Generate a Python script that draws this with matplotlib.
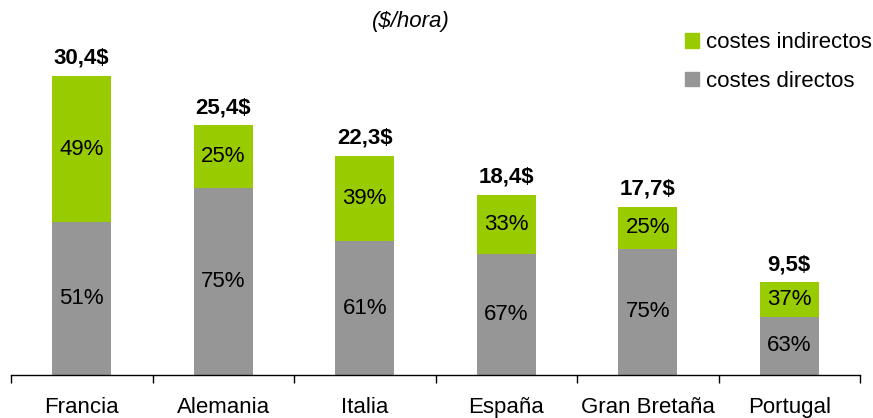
import matplotlib
matplotlib.use("Agg")
import matplotlib.pyplot as plt
from matplotlib.patches import Patch

# datos
paises = ["Francia", "Alemania", "Italia", "España", "Gran Bretaña", "Portugal"]
totales = [30.4, 25.4, 22.3, 18.4, 17.7, 9.5]          # etiquetas
altura_barra = [30.4, 25.4, 22.3, 18.3, 17.1, 9.4]     # altura dibujada en el original
pct_directos = [51, 75, 61, 67, 75, 63]
pct_indirectos = [49, 25, 39, 33, 25, 37]

GRIS = "#969696"
VERDE = "#99CC00"
FS = 16

plt.rcParams.update({
    "font.family": ["Liberation Sans", "DejaVu Sans"],
    "font.size": FS,
})

fig = plt.figure(figsize=(8.73, 4.18), dpi=100)
ax = fig.add_axes([11 / 873, 43 / 418, 849 / 873, 375 / 418])

x = list(range(len(paises)))
directos = [h * p / 100 for h, p in zip(altura_barra, pct_directos)]
indirectos = [h - d for h, d in zip(altura_barra, directos)]

ancho = 0.42
ax.bar(x, directos, width=ancho, color=GRIS)
ax.bar(x, indirectos, width=ancho, bottom=directos, color=VERDE)

for i in x:
    ax.text(i, directos[i] / 2, f"{pct_directos[i]}%", ha="center", va="center")
    ax.text(i, directos[i] + indirectos[i] / 2, f"{pct_indirectos[i]}%",
            ha="center", va="center")
    ax.annotate(f"{totales[i]:.1f}$".replace(".", ","), (i, altura_barra[i]),
                xytext=(0, 5), textcoords="offset points",
                ha="center", va="bottom", fontweight="bold")

ax.set_xlim(-0.5, len(paises) - 0.5)
ax.set_ylim(0, 38.1)

for s in ["top", "right", "left"]:
    ax.spines[s].set_visible(False)
ax.spines["bottom"].set_linewidth(1.0)

ax.set_yticks([])
ax.set_xticks(x)
ax.set_xticklabels(paises)
ax.tick_params(axis="x", which="major", length=0, pad=16, labelsize=FS)
ax.set_xticks([i - 0.5 for i in range(len(paises) + 1)], minor=True)
ax.tick_params(axis="x", which="minor", length=6, width=1, direction="out")

fig.text(411 / 873, 1 - 21 / 418, "($/hora)", ha="center", va="center",
         fontstyle="italic")

handles = [Patch(color=VERDE), Patch(color=GRIS)]
fig.legend(handles, ["costes indirectos", "costes directos"],
           loc="upper left", bbox_to_anchor=(685 / 873, 1 - 32 / 418),
           frameon=False, fontsize=FS, handlelength=0.65, handleheight=0.65,
           handletextpad=0.3, labelspacing=0.8, borderaxespad=0, borderpad=0)

fig.savefig("out.png", dpi=100)
